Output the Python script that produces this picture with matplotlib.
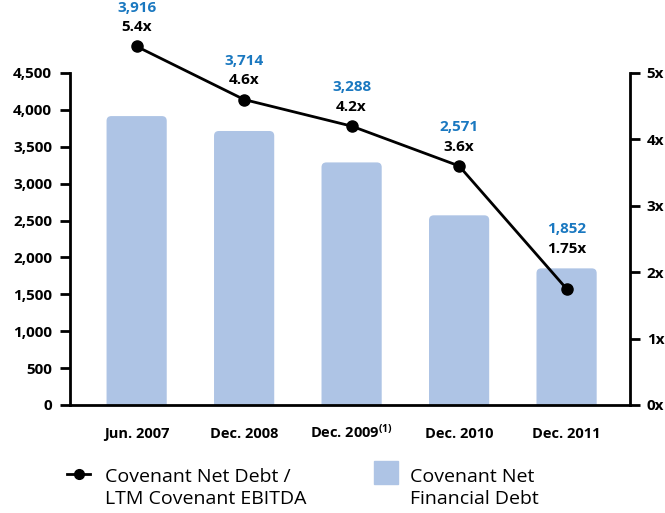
import matplotlib
matplotlib.use("Agg")
import matplotlib.pyplot as plt
from matplotlib.patches import FancyBboxPatch, Rectangle
from matplotlib.lines import Line2D

# --- Datos ---
periodos = ["Jun. 2007", "Dec. 2008", "Dec. 2009$^{(1)}$", "Dec. 2010", "Dec. 2011"]
deuda_neta = [3916, 3714, 3288, 2571, 1852]        # Covenant Net Financial Debt
ratio_ebitda = [5.4, 4.6, 4.2, 3.6, 1.75]          # Net Debt / LTM EBITDA
ticks_izq = [0, 500, 1000, 1500, 2000, 2500, 3000, 3500, 4000, 4500]
ticks_der = [0, 1, 2, 3, 4, 5]

color_barra = "#aec4e5"
color_azul = "#1a78c0"

plt.rcParams["font.family"] = ["Open Sans", "DejaVu Sans"]
plt.rcParams["mathtext.fontset"] = "custom"
plt.rcParams["mathtext.rm"] = "Open Sans:bold"
plt.rcParams["mathtext.default"] = "rm"

W, H = 665, 513
fig = plt.figure(figsize=(W / 100, H / 100), dpi=100)
ax = fig.add_axes([70 / W, 108 / H, 560 / W, 332 / H])
ax2 = ax.twinx()
ax2.set_zorder(ax.get_zorder() + 1)

x = list(range(len(periodos)))

# --- Barras con esquinas superiores redondeadas ---
barras = ax.bar(x, deuda_neta, width=0.56, color=color_barra)
for b in barras:
    b.set_visible(False)
    ax.add_patch(FancyBboxPatch((b.get_x(), -300), b.get_width(), b.get_height() + 300,
                                boxstyle="round,pad=0,rounding_size=0.045",
                                mutation_aspect=1450, facecolor=color_barra,
                                edgecolor="none"))

ax.set_xlim(-0.62, 4.59)
ax.set_ylim(0, 4500)
ax.set_yticks(ticks_izq)
ax.set_yticklabels([f"{v:,}" for v in ticks_izq], fontweight="bold", fontsize=11)
ax.set_xticks(x)
ax.set_xticklabels(periodos, fontweight="bold", fontsize=10.5, va="baseline")
ax.tick_params(axis="x", length=0, pad=24)
ax.tick_params(axis="y", direction="out", length=7, width=2, pad=6)

# --- Ratio deuda / EBITDA ---
ax2.plot(x, ratio_ebitda, color="black", lw=2, marker="o", ms=8, clip_on=False)
ax2.set_ylim(0, 5)
ax2.set_yticks(ticks_der)
ax2.set_yticklabels([f"{v}x" for v in ticks_der], fontweight="bold", fontsize=11)
ax2.tick_params(axis="y", direction="out", length=7, width=2, pad=5)

# etiquetas encima del punto, o encima de la barra si ésta queda más alta
escala = ax2.get_ylim()[1] / ax.get_ylim()[1]
for i in x:
    y_ref = max(ratio_ebitda[i], deuda_neta[i] * escala)
    ax2.annotate(f"{ratio_ebitda[i]:g}x", (i, y_ref), xytext=(0, 14),
                 textcoords="offset points", ha="center", va="center",
                 fontsize=11, fontweight="bold", annotation_clip=False)
    ax2.annotate(f"{deuda_neta[i]:,}", (i, y_ref), xytext=(0, 28),
                 textcoords="offset points", ha="center", va="center",
                 fontsize=11, fontweight="bold", color=color_azul,
                 annotation_clip=False)

for a in (ax, ax2):
    a.spines["top"].set_visible(False)
ax.spines["right"].set_visible(False)
ax2.spines["left"].set_visible(False)
ax2.spines["bottom"].set_visible(False)
for s in ("left", "bottom"):
    ax.spines[s].set_linewidth(2)
ax2.spines["right"].set_linewidth(2)

# --- Leyenda ---
y_leg = 1 - 474 / H
fig.add_artist(Line2D([67 / W, 90 / W], [y_leg, y_leg], color="black", lw=2,
                      transform=fig.transFigure))
fig.add_artist(Line2D([79 / W], [y_leg], color="black", marker="o", ms=7,
                      transform=fig.transFigure))
fig.add_artist(Rectangle((374 / W, 1 - 484 / H), 24 / W, 23 / H,
                         color=color_barra, transform=fig.transFigure))

textos_leyenda = [(105, ["Covenant Net Debt /", "LTM Covenant EBITDA"]),
                  (410, ["Covenant Net", "Financial Debt"])]
for x0, lineas in textos_leyenda:
    for k, linea in enumerate(lineas):
        fig.text(x0 / W, 1 - (482 + 22 * k) / H, linea, fontsize=14,
                 va="baseline", ha="left")

fig.savefig("out.png", dpi=100)
